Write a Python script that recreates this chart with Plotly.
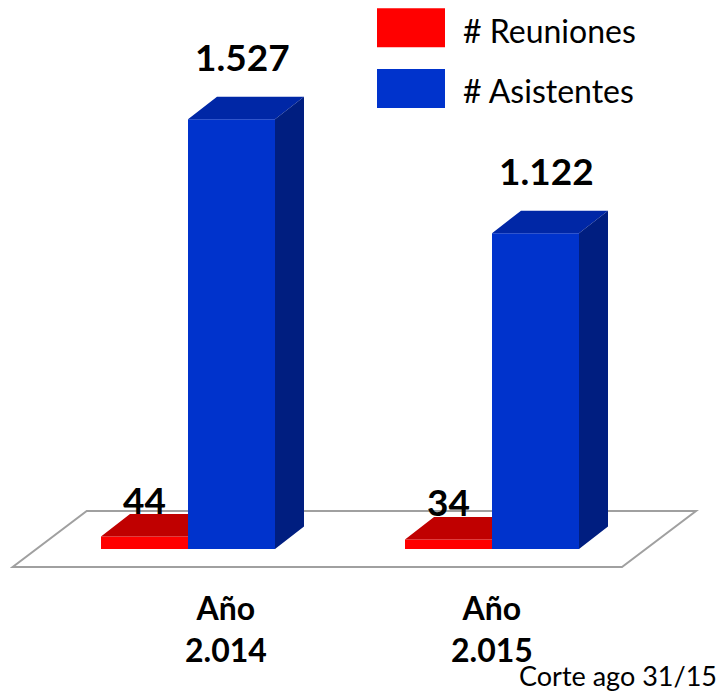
import plotly.graph_objects as go

# ---- data ----
categories = ["Año<br>2.014", "Año<br>2.015"]
series_names = ["# Reuniones", "# Asistentes"]
reuniones = [44, 34]
asistentes = [1527, 1122]
footnote = "Corte ago 31/15"

# ---- geometry / style (not data) ----
W, H = 719, 693
PX_PER_X = 304.0          # pixels per category step
X0_PX = 188.0             # pixel of category 0 (boundary red/blue)
BASE_PX = 549.0           # pixel of y=0
PX_PER_Y = 0.2814         # pixels per unit value
bw = 87.0 / PX_PER_X      # bar width in x units
dxd = 29.0 / PX_PER_X     # depth offset in x units
dyd = 22.5 / PX_PER_Y     # depth offset in y units

x_range = [-X0_PX / PX_PER_X, (W - X0_PX) / PX_PER_X]
y_range = [-(H - BASE_PX) / PX_PER_Y, BASE_PX / PX_PER_Y]

RED_FRONT, RED_TOP = "#FF0000", "#C00000"
BLUE_FRONT, BLUE_TOP, BLUE_SIDE = "#0033CC", "#0027A6", "#001E80"
FONT = "Lato, 'Open Sans', sans-serif"

def fmt(v):
    return f"{v:,}".replace(",", ".")

xs = list(range(len(categories)))

fig = go.Figure()

# front faces as bars
fig.add_trace(go.Bar(x=xs, y=reuniones, width=bw, offset=-bw,
                     marker=dict(color=RED_FRONT, line=dict(width=0)),
                     name=series_names[0], showlegend=False, hoverinfo="skip"))
fig.add_trace(go.Bar(x=xs, y=asistentes, width=bw, offset=0,
                     marker=dict(color=BLUE_FRONT, line=dict(width=0)),
                     name=series_names[1], showlegend=False, hoverinfo="skip"))

# 3D faces computed from data
def poly_trace(polys, color):
    px, py = [], []
    for p in polys:
        for (a, b) in p:
            px.append(a); py.append(b)
        px.append(p[0][0]); py.append(p[0][1])
        px.append(None); py.append(None)
    return go.Scatter(x=px, y=py, fill="toself", fillcolor=color, mode="lines",
                      line=dict(width=0, color=color), showlegend=False, hoverinfo="skip")

red_tops = [[(i - bw, r), (i, r), (i, r + dyd), (i - bw + dxd, r + dyd)]
            for i, r in zip(xs, reuniones)]
blue_tops = [[(i, v), (i + bw, v), (i + bw + dxd, v + dyd), (i + dxd, v + dyd)]
             for i, v in zip(xs, asistentes)]
blue_sides = [[(i + bw, 0), (i + bw, v), (i + bw + dxd, v + dyd), (i + bw + dxd, dyd)]
              for i, v in zip(xs, asistentes)]
fig.add_trace(poly_trace(red_tops, RED_TOP))
fig.add_trace(poly_trace(blue_tops, BLUE_TOP))
fig.add_trace(poly_trace(blue_sides, BLUE_SIDE))

# floor
fy_front = -18.0 / PX_PER_Y
fy_back = 38.0 / PX_PER_Y
fxl = (12.7 - X0_PX) / PX_PER_X
fxr = (622.0 - X0_PX) / PX_PER_X
fdx = 74.0 / PX_PER_X
fig.add_shape(type="path", xref="x", yref="y", layer="below",
              path=f"M {fxl},{fy_front} L {fxr},{fy_front} L {fxr+fdx},{fy_back} L {fxl+fdx},{fy_back} Z",
              line=dict(color="#A0A0A0", width=2), fillcolor="white")

# value labels
for i, v in zip(xs, asistentes):
    fig.add_annotation(x=i + bw / 2, y=v + dyd, xref="x", yref="y", text=fmt(v),
                       showarrow=False, yanchor="middle", xshift=11, yshift=40,
                       font=dict(family=FONT, size=37, color="black", weight="bold"))
for i, r in zip(xs, reuniones):
    fig.add_annotation(x=i - bw / 2, y=r + dyd, xref="x", yref="y", text=fmt(r),
                       showarrow=False, yanchor="middle", xshift=0, yshift=15,
                       font=dict(family=FONT, size=37, color="black", weight="bold"))

# category labels
cat_shift = [38, 0]
for i, c in enumerate(categories):
    fig.add_annotation(x=i, y=1 - 628 / H, xref="x", yref="paper", text=c,
                       showarrow=False, yanchor="middle", xshift=cat_shift[i],
                       font=dict(family=FONT, size=32, color="black", weight="bold"))

# legend (manual, large swatches)
leg_colors = [RED_FRONT, BLUE_FRONT]
leg_top = [8.3, 69.0]
for name, col, t in zip(series_names, leg_colors, leg_top):
    fig.add_shape(type="rect", xref="paper", yref="paper",
                  x0=377 / W, x1=445 / W, y0=1 - t / H, y1=1 - (t + 39) / H,
                  fillcolor=col, line=dict(width=0))
    fig.add_annotation(x=461 / W, y=1 - (t + 22) / H, xref="paper", yref="paper",
                       text=name, showarrow=False, xanchor="left", yanchor="middle",
                       font=dict(family=FONT, size=32, color="black"))

# footnote
fig.add_annotation(x=1, y=0, xref="paper", yref="paper", text=footnote,
                   showarrow=False, xanchor="right", yanchor="bottom", xshift=-1,
                   borderpad=0, font=dict(family=FONT, size=27, color="black"))

fig.update_layout(
    width=W, height=H, margin=dict(l=0, r=0, t=0, b=0),
    paper_bgcolor="white", plot_bgcolor="white",
    barmode="overlay", showlegend=False,
    xaxis=dict(range=x_range, visible=False, fixedrange=True),
    yaxis=dict(range=y_range, visible=False, fixedrange=True),
)

fig.write_html("out.html", config={"displayModeBar": False},
               post_script="document.body.style.margin='0px';document.body.style.overflow='hidden';")
